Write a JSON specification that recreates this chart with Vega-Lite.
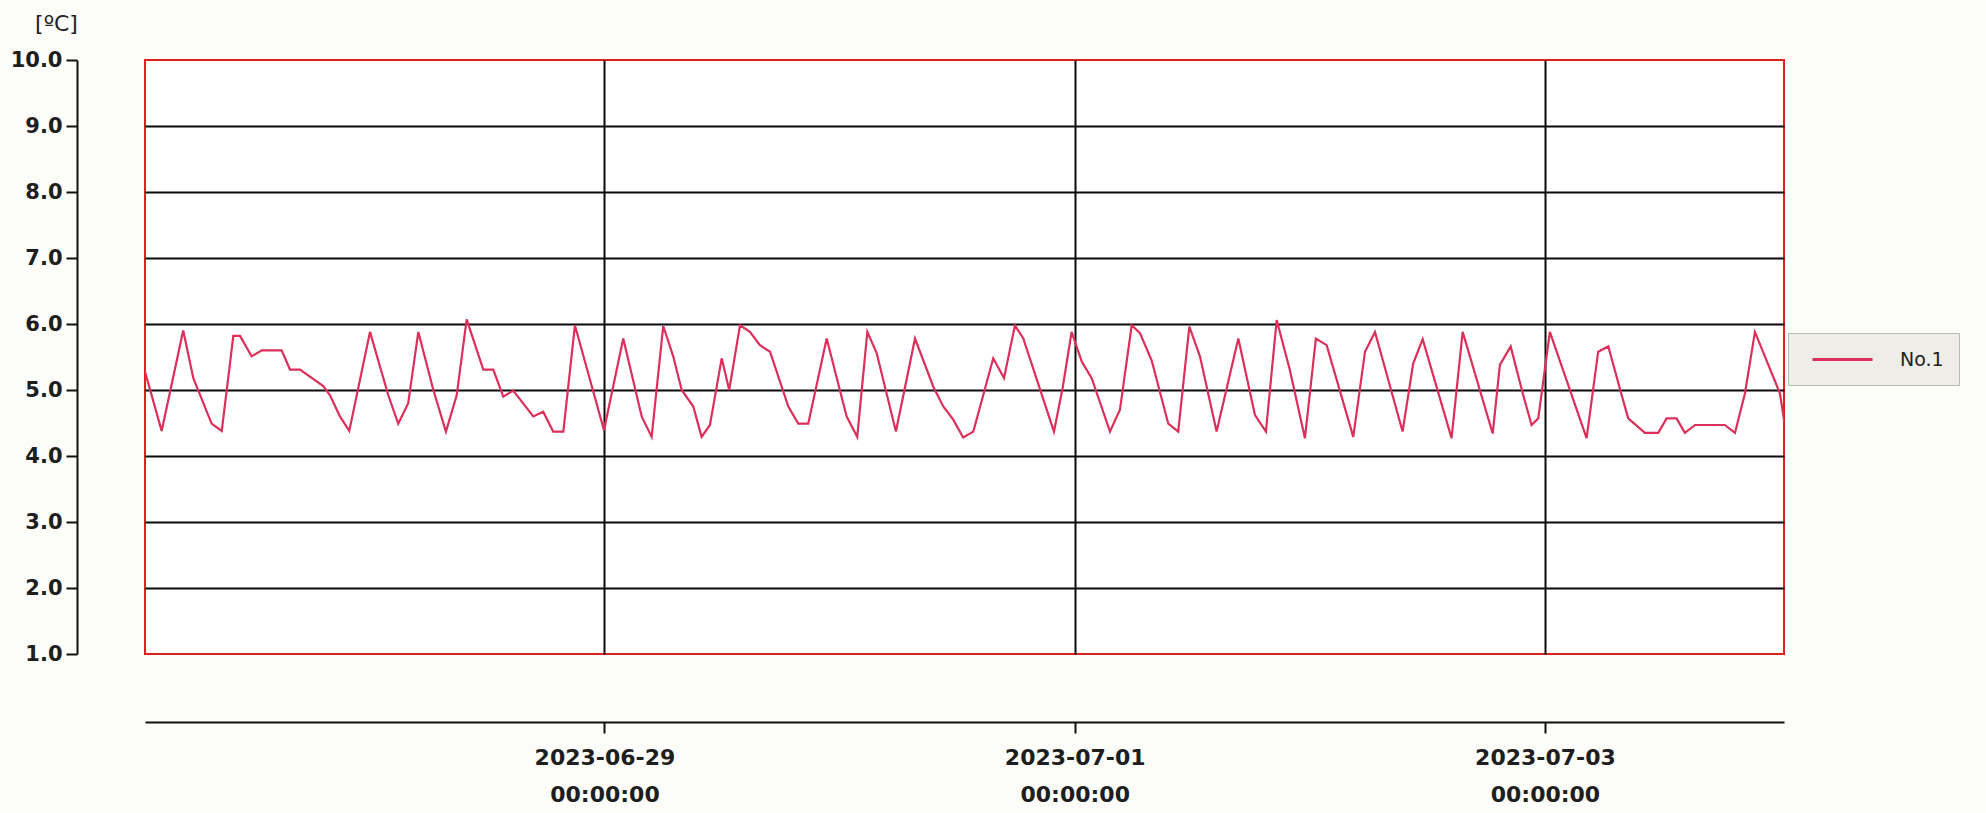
{
  "$schema": "https://vega.github.io/schema/vega-lite/v6.json",
  "width": 1639,
  "height": 594,
  "autosize": {"type": "none"},
  "padding": {"left": 145, "top": 60, "right": 202, "bottom": 159},
  "background": "#fcfcf8",
  "view": {"fill": "#ffffff", "stroke": "#e0201c", "strokeWidth": 2},
  "data": {
    "values": [
      {"t": "2023-06-27T01:00", "v": 5.33},
      {"t": "2023-06-27T02:48", "v": 4.38},
      {"t": "2023-06-27T05:00", "v": 5.90},
      {"t": "2023-06-27T06:02", "v": 5.18},
      {"t": "2023-06-27T07:54", "v": 4.49},
      {"t": "2023-06-27T08:56", "v": 4.38},
      {"t": "2023-06-27T10:07", "v": 5.82},
      {"t": "2023-06-27T10:48", "v": 5.82},
      {"t": "2023-06-27T11:59", "v": 5.51},
      {"t": "2023-06-27T13:01", "v": 5.60},
      {"t": "2023-06-27T15:03", "v": 5.60},
      {"t": "2023-06-27T15:54", "v": 5.31},
      {"t": "2023-06-27T16:55", "v": 5.31},
      {"t": "2023-06-27T19:18", "v": 5.06},
      {"t": "2023-06-27T19:59", "v": 4.92},
      {"t": "2023-06-27T21:00", "v": 4.60},
      {"t": "2023-06-27T21:57", "v": 4.38},
      {"t": "2023-06-28T00:04", "v": 5.88},
      {"t": "2023-06-28T01:56", "v": 4.92},
      {"t": "2023-06-28T02:57", "v": 4.49},
      {"t": "2023-06-28T03:58", "v": 4.80},
      {"t": "2023-06-28T05:00", "v": 5.88},
      {"t": "2023-06-28T06:32", "v": 5.00},
      {"t": "2023-06-28T07:49", "v": 4.37},
      {"t": "2023-06-28T08:55", "v": 4.92},
      {"t": "2023-06-28T09:56", "v": 6.07},
      {"t": "2023-06-28T11:38", "v": 5.31},
      {"t": "2023-06-28T12:39", "v": 5.31},
      {"t": "2023-06-28T13:40", "v": 4.90},
      {"t": "2023-06-28T14:41", "v": 4.99},
      {"t": "2023-06-28T16:44", "v": 4.60},
      {"t": "2023-06-28T17:45", "v": 4.67},
      {"t": "2023-06-28T18:46", "v": 4.37},
      {"t": "2023-06-28T19:48", "v": 4.37},
      {"t": "2023-06-28T20:59", "v": 5.98},
      {"t": "2023-06-28T23:57", "v": 4.39},
      {"t": "2023-06-29T01:55", "v": 5.78},
      {"t": "2023-06-29T03:48", "v": 4.60},
      {"t": "2023-06-29T04:49", "v": 4.29},
      {"t": "2023-06-29T06:00", "v": 5.97},
      {"t": "2023-06-29T07:01", "v": 5.51},
      {"t": "2023-06-29T07:53", "v": 5.00},
      {"t": "2023-06-29T09:04", "v": 4.75},
      {"t": "2023-06-29T09:55", "v": 4.29},
      {"t": "2023-06-29T10:46", "v": 4.47},
      {"t": "2023-06-29T11:58", "v": 5.48},
      {"t": "2023-06-29T12:44", "v": 5.00},
      {"t": "2023-06-29T13:50", "v": 5.98},
      {"t": "2023-06-29T14:51", "v": 5.88},
      {"t": "2023-06-29T15:52", "v": 5.68},
      {"t": "2023-06-29T16:54", "v": 5.58},
      {"t": "2023-06-29T18:46", "v": 4.75},
      {"t": "2023-06-29T19:47", "v": 4.49},
      {"t": "2023-06-29T20:48", "v": 4.49},
      {"t": "2023-06-29T22:41", "v": 5.78},
      {"t": "2023-06-30T00:43", "v": 4.60},
      {"t": "2023-06-30T01:48", "v": 4.29},
      {"t": "2023-06-30T02:50", "v": 5.88},
      {"t": "2023-06-30T03:47", "v": 5.56},
      {"t": "2023-06-30T05:45", "v": 4.37},
      {"t": "2023-06-30T07:42", "v": 5.78},
      {"t": "2023-06-30T09:34", "v": 5.05},
      {"t": "2023-06-30T10:35", "v": 4.75},
      {"t": "2023-06-30T11:36", "v": 4.55},
      {"t": "2023-06-30T12:37", "v": 4.28},
      {"t": "2023-06-30T13:39", "v": 4.37},
      {"t": "2023-06-30T15:41", "v": 5.48},
      {"t": "2023-06-30T16:47", "v": 5.18},
      {"t": "2023-06-30T17:54", "v": 5.98},
      {"t": "2023-06-30T18:45", "v": 5.78},
      {"t": "2023-06-30T21:53", "v": 4.37},
      {"t": "2023-06-30T22:46", "v": 5.03},
      {"t": "2023-06-30T23:41", "v": 5.88},
      {"t": "2023-07-01T00:43", "v": 5.43},
      {"t": "2023-07-01T01:44", "v": 5.18},
      {"t": "2023-07-01T03:36", "v": 4.37},
      {"t": "2023-07-01T04:37", "v": 4.70},
      {"t": "2023-07-01T05:49", "v": 5.98},
      {"t": "2023-07-01T06:40", "v": 5.86},
      {"t": "2023-07-01T07:51", "v": 5.45},
      {"t": "2023-07-01T09:33", "v": 4.49},
      {"t": "2023-07-01T10:34", "v": 4.37},
      {"t": "2023-07-01T11:42", "v": 5.96},
      {"t": "2023-07-01T12:47", "v": 5.51},
      {"t": "2023-07-01T14:29", "v": 4.37},
      {"t": "2023-07-01T16:42", "v": 5.78},
      {"t": "2023-07-01T18:24", "v": 4.62},
      {"t": "2023-07-01T19:31", "v": 4.37},
      {"t": "2023-07-01T20:37", "v": 6.06},
      {"t": "2023-07-01T21:58", "v": 5.30},
      {"t": "2023-07-01T23:30", "v": 4.27},
      {"t": "2023-07-02T00:37", "v": 5.78},
      {"t": "2023-07-02T01:43", "v": 5.68},
      {"t": "2023-07-02T04:26", "v": 4.29},
      {"t": "2023-07-02T05:38", "v": 5.58},
      {"t": "2023-07-02T06:39", "v": 5.88},
      {"t": "2023-07-02T09:28", "v": 4.37},
      {"t": "2023-07-02T10:33", "v": 5.40},
      {"t": "2023-07-02T11:31", "v": 5.77},
      {"t": "2023-07-02T14:28", "v": 4.27},
      {"t": "2023-07-02T15:36", "v": 5.88},
      {"t": "2023-07-02T18:40", "v": 4.34},
      {"t": "2023-07-02T19:24", "v": 5.38},
      {"t": "2023-07-02T20:30", "v": 5.66},
      {"t": "2023-07-02T21:47", "v": 4.92},
      {"t": "2023-07-02T22:38", "v": 4.47},
      {"t": "2023-07-02T23:19", "v": 4.57},
      {"t": "2023-07-03T00:30", "v": 5.88},
      {"t": "2023-07-03T04:15", "v": 4.27},
      {"t": "2023-07-03T05:26", "v": 5.58},
      {"t": "2023-07-03T06:28", "v": 5.66},
      {"t": "2023-07-03T07:50", "v": 4.92},
      {"t": "2023-07-03T08:30", "v": 4.57},
      {"t": "2023-07-03T10:12", "v": 4.35},
      {"t": "2023-07-03T11:34", "v": 4.35},
      {"t": "2023-07-03T12:25", "v": 4.57},
      {"t": "2023-07-03T13:26", "v": 4.57},
      {"t": "2023-07-03T14:17", "v": 4.35},
      {"t": "2023-07-03T15:19", "v": 4.47},
      {"t": "2023-07-03T18:22", "v": 4.47},
      {"t": "2023-07-03T19:24", "v": 4.35},
      {"t": "2023-07-03T20:25", "v": 4.95},
      {"t": "2023-07-03T21:26", "v": 5.88},
      {"t": "2023-07-03T23:59", "v": 4.95},
      {"t": "2023-07-04T00:30", "v": 4.45}
    ]
  },
  "mark": {"type": "line", "strokeWidth": 2.2, "clip": true},
  "encoding": {
    "x": {
      "field": "t",
      "type": "temporal",
      "scale": {
        "domain": [
          {"year": 2023, "month": 6, "date": 27, "hours": 1, "minutes": 6},
          {"year": 2023, "month": 7, "date": 4, "hours": 0, "minutes": 24}
        ]
      },
      "axis": {
        "values": [
          {"year": 2023, "month": 6, "date": 29},
          {"year": 2023, "month": 7, "date": 1},
          {"year": 2023, "month": 7, "date": 3}
        ],
        "labelExpr": "[timeFormat(datum.value, '%Y-%m-%d'), timeFormat(datum.value, '%H:%M:%S')]",
        "title": null,
        "offset": 68,
        "grid": true,
        "gridColor": "#0a0a0a",
        "gridWidth": 2,
        "domainColor": "#111111",
        "domainWidth": 2,
        "tickColor": "#111111",
        "tickWidth": 2,
        "tickSize": 11,
        "labelFont": "DejaVu Sans",
        "labelFontSize": 22,
        "labelFontWeight": "bold",
        "labelColor": "#1e1e1e",
        "labelPadding": 14,
        "labelBaseline": "top",
        "labelLineHeight": 37,
        "labelFlush": false,
        "labelOverlap": false
      }
    },
    "y": {
      "field": "v",
      "type": "quantitative",
      "scale": {"domain": [1, 10], "nice": false, "zero": false},
      "axis": {
        "values": [1, 2, 3, 4, 5, 6, 7, 8, 9, 10],
        "format": ".1f",
        "offset": 68,
        "grid": true,
        "gridColor": {"condition": {"test": "datum.value == 1 || datum.value == 10", "value": "transparent"}, "value": "#0a0a0a"},
        "gridWidth": 2,
        "domainColor": "#111111",
        "domainWidth": 2,
        "tickColor": "#111111",
        "tickWidth": 2,
        "tickSize": 11,
        "labelFont": "DejaVu Sans",
        "labelFontSize": 21,
        "labelFontWeight": "bold",
        "labelColor": "#1e1e1e",
        "labelPadding": 4,
        "labelFlush": false,
        "title": "[ºC]",
        "titleAngle": 0,
        "titleFont": "DejaVu Sans",
        "titleFontSize": 22,
        "titleFontWeight": "normal",
        "titleColor": "#222222",
        "titleAlign": "center",
        "titleBaseline": "middle",
        "titleX": -21,
        "titleY": -37
      }
    },
    "color": {
      "datum": "No.1",
      "scale": {"range": ["#dc2f5a"]},
      "legend": {
        "orient": "none",
        "legendX": 1643,
        "legendY": 273,
        "title": null,
        "symbolType": "M-3,0H3",
        "symbolSize": 400,
        "symbolStrokeWidth": 3,
        "symbolOffset": 28,
        "labelOffset": 46,
        "padding": 15,
        "fillColor": "#efede7",
        "strokeColor": "#bdbab0",
        "cornerRadius": 0,
        "labelFont": "DejaVu Sans",
        "labelFontSize": 19,
        "labelColor": "#222222"
      }
    }
  }
}
